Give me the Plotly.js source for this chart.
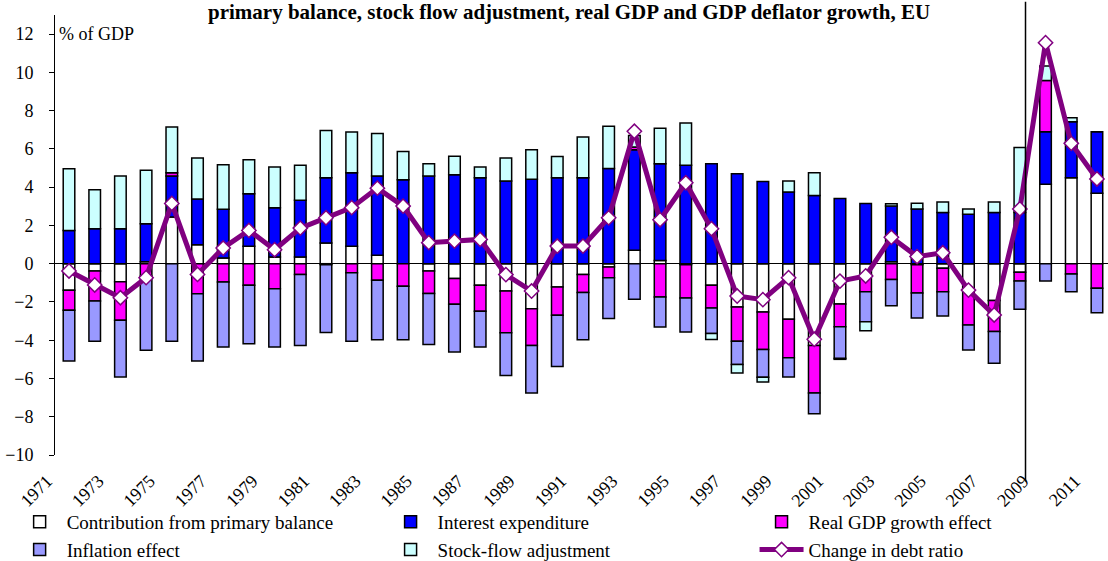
<!DOCTYPE html>
<html>
<head>
<meta charset="utf-8">
<script src="https://cdn.plot.ly/plotly-3.0.1.min.js"></script>
<style>
  html, body { margin: 0; padding: 0; background: #fff; }
  #chart { width: 1108px; height: 561px; }
</style>
</head>
<body>
<div id="chart"></div>
<script>
// ---- Data (% of GDP) ----
const years = [1971,1972,1973,1974,1975,1976,1977,1978,1979,1980,
               1981,1982,1983,1984,1985,1986,1987,1988,1989,1990,
               1991,1992,1993,1994,1995,1996,1997,1998,1999,2000,
               2001,2002,2003,2004,2005,2006,2007,2008,2009,2010,2011];

const primaryBalance = [-1.39,-0.38,-0.94,0.10,2.44,0.99,0.30,0.91,0.35,0.35,
                        1.08,0.91,0.44,0.00,-0.38,-0.78,-1.13,-1.43,-2.35,-1.22,
                        -0.57,-0.17,0.70,0.17,-0.05,-1.13,-2.26,-2.53,-2.91,-4.27,
                        -2.11,-0.59,0.10,-0.05,-0.24,-1.41,-1.93,-0.45,4.15,4.49,3.68];

const interestExpenditure = [1.74,1.83,1.83,1.99,2.14,2.39,2.54,2.75,2.58,2.96,
                             3.41,3.85,4.15,4.39,4.58,4.65,4.49,4.32,4.41,4.49,
                             4.49,4.97,5.26,5.05,5.14,5.23,4.70,4.30,3.75,3.57,
                             3.41,3.15,2.91,2.86,2.67,2.58,2.67,2.67,2.75,2.93,3.22];

const realGdpEffect = [-1.05,-1.57,-2.02,-0.65,0.17,-1.57,-0.96,-1.13,-1.31,-0.56,
                       -0.05,-0.47,-0.87,-1.18,-1.18,-1.34,-1.36,-2.18,-1.92,-1.48,
                       -0.94,-0.57,0.14,-1.74,-1.74,-1.18,-1.79,-1.95,-2.00,-2.49,
                       -1.18,-0.87,-0.82,-1.48,-1.22,-1.79,-1.62,-0.45,2.67,-0.54,-1.29];

const inflationEffect = [-2.65,-2.11,-2.96,-3.87,-4.06,-3.52,-3.40,-3.05,-3.05,-3.71,
                         -3.55,-3.59,-3.10,-2.79,-2.67,-2.49,-1.86,-2.23,-2.49,-2.67,
                         -2.46,-2.13,-1.86,-1.57,-1.78,-1.34,-1.22,-1.45,-1.01,-1.08,
                         -1.66,-1.57,-1.38,-1.31,-1.27,-1.31,-1.66,-1.48,-0.91,-0.92,-1.27];

const stockFlowAdjustment = [3.22,2.04,2.75,2.79,2.39,2.14,2.33,1.78,2.13,1.83,
                             2.47,2.13,2.21,1.48,0.64,0.96,0.56,1.20,1.55,1.11,
                             2.13,2.21,0.60,1.86,2.21,-0.31,-0.44,-0.26,0.57,1.18,
                             -0.05,-0.47,0.12,0.30,0.56,0.28,0.56,3.41,0.77,0.21,0.00];

const debtRatioChange = [-0.38,-1.11,-1.78,-0.73,3.15,-0.56,0.82,1.74,0.73,1.86,
                         2.40,2.93,3.95,3.01,1.10,1.18,1.27,-0.57,-1.43,0.92,
                         0.92,2.40,6.92,2.30,4.23,1.83,-1.69,-1.88,-0.73,-3.95,
                         -0.91,-0.64,1.38,0.37,0.57,-1.38,-2.68,2.86,11.55,6.29,4.43];

const tickYears = [1971,1973,1975,1977,1979,1981,1983,1985,1987,1989,1991,
                   1993,1995,1997,1999,2001,2003,2005,2007,2009,2011];
const tickText = tickYears.map(String);

const seriesNames = ['Contribution from primary balance','Interest expenditure','Real GDP growth effect',
                     'Inflation effect','Stock-flow adjustment','Change in debt ratio'];

// ---- Styling ----
const FONT = 'Liberation Serif, Times New Roman, serif';
const barColors = ['#FFFFFF','#0000FF','#FF00FF','#9999FF','#CCFFFF'];
const barSeries = [primaryBalance, interestExpenditure, realGdpEffect, inflationEffect, stockFlowAdjustment];
// legend column for each series (3 columns x 2 rows, as in the reference)
const legendOf = ['legend','legend2','legend3','legend','legend2','legend3'];

const traces = barSeries.map((vals, i) => ({
  type: 'bar',
  name: seriesNames[i],
  legend: legendOf[i],
  x: years,
  y: vals,
  marker: { color: barColors[i], line: { color: '#000000', width: 1.5 } },
  hoverinfo: 'x+y+name'
}));

traces.push({
  type: 'scatter',
  mode: 'lines+markers',
  name: seriesNames[5],
  legend: legendOf[5],
  x: years,
  y: debtRatioChange,
  line: { color: '#800080', width: 5 },
  marker: { symbol: 'diamond', size: 11, color: '#FFFFFF', line: { color: '#800080', width: 1.5 } }
});

const xRange = [1970.455, 2011.43];
const yRange = [-10, 13];
const boundaryTicks = years.slice(0, -1).map(y => y + 0.5);

function legendAt(xc) {
  return {
    orientation: 'v',
    xref: 'container',
    yref: 'container',
    x: xc,
    xanchor: 'left',
    y: 0.1034,
    yanchor: 'top',
    font: { family: FONT, size: 19, color: '#000000' },
    itemwidth: 44,
    traceorder: 'normal',
    tracegroupgap: 0,
    bgcolor: 'rgba(0,0,0,0)'
  };
}

const layout = {
  width: 1108,
  height: 561,
  margin: { l: 55, r: 0, t: 15, b: 106, pad: 0, autoexpand: false },
  paper_bgcolor: '#FFFFFF',
  plot_bgcolor: '#FFFFFF',
  font: { family: FONT, size: 18, color: '#000000' },
  barmode: 'relative',
  bargap: 0.55,
  showlegend: true,
  legend: legendAt(0.0114),
  legend2: legendAt(0.3462),
  legend3: legendAt(0.681),
  xaxis: {
    range: xRange,
    tickmode: 'array',
    tickvals: tickYears,
    ticktext: tickText,
    tickangle: -45,
    ticks: '',
    ticklabelshift: -22,
    ticklabelstandoff: 11,
    showline: false,
    showgrid: false,
    zeroline: false,
    automargin: false,
    tickfont: { family: FONT, size: 18, color: '#000000' },
    fixedrange: true
  },
  xaxis2: {
    overlaying: 'x',
    anchor: 'free',
    position: (0 - yRange[0]) / (yRange[1] - yRange[0]),
    range: xRange,
    tickmode: 'array',
    tickvals: boundaryTicks,
    showticklabels: false,
    ticks: 'outside',
    ticklen: 5,
    tickwidth: 1,
    tickcolor: '#000000',
    showline: true,
    linecolor: '#000000',
    linewidth: 1,
    showgrid: false,
    zeroline: false,
    automargin: false,
    fixedrange: true
  },
  yaxis: {
    range: yRange,
    tickmode: 'linear',
    tick0: -10,
    dtick: 2,
    ticks: 'outside',
    ticklen: 5,
    tickwidth: 1,
    tickcolor: '#000000',
    ticklabelstandoff: 12,
    showline: true,
    linecolor: '#000000',
    linewidth: 1,
    showgrid: false,
    zeroline: true,
    zerolinecolor: '#000000',
    zerolinewidth: 1,
    automargin: false,
    tickfont: { family: FONT, size: 18, color: '#000000' },
    fixedrange: true
  },
  shapes: [{
    type: 'line',
    xref: 'x', yref: 'paper',
    x0: 2008.22, x1: 2008.22,
    y0: -0.06, y1: 1.03,
    line: { color: '#000000', width: 1.5 },
    layer: 'above'
  }],
  annotations: [
    {
      text: '% of GDP',
      xref: 'paper', yref: 'y',
      x: 0.002, y: 12,
      xanchor: 'left', yanchor: 'middle',
      showarrow: false,
      font: { family: FONT, size: 18, color: '#000000' }
    },
    {
      text: '<b>primary balance, stock flow adjustment, real GDP and GDP deflator growth, EU</b>',
      xref: 'paper', yref: 'paper',
      x: 0.488, y: 1.0,
      xanchor: 'center', yanchor: 'bottom',
      yshift: -11,
      showarrow: false,
      font: { family: FONT, size: 21, color: '#000000' }
    }
  ]
};

Plotly.newPlot('chart', traces, layout, { displayModeBar: false, staticPlot: true });
</script>
</body>
</html>
